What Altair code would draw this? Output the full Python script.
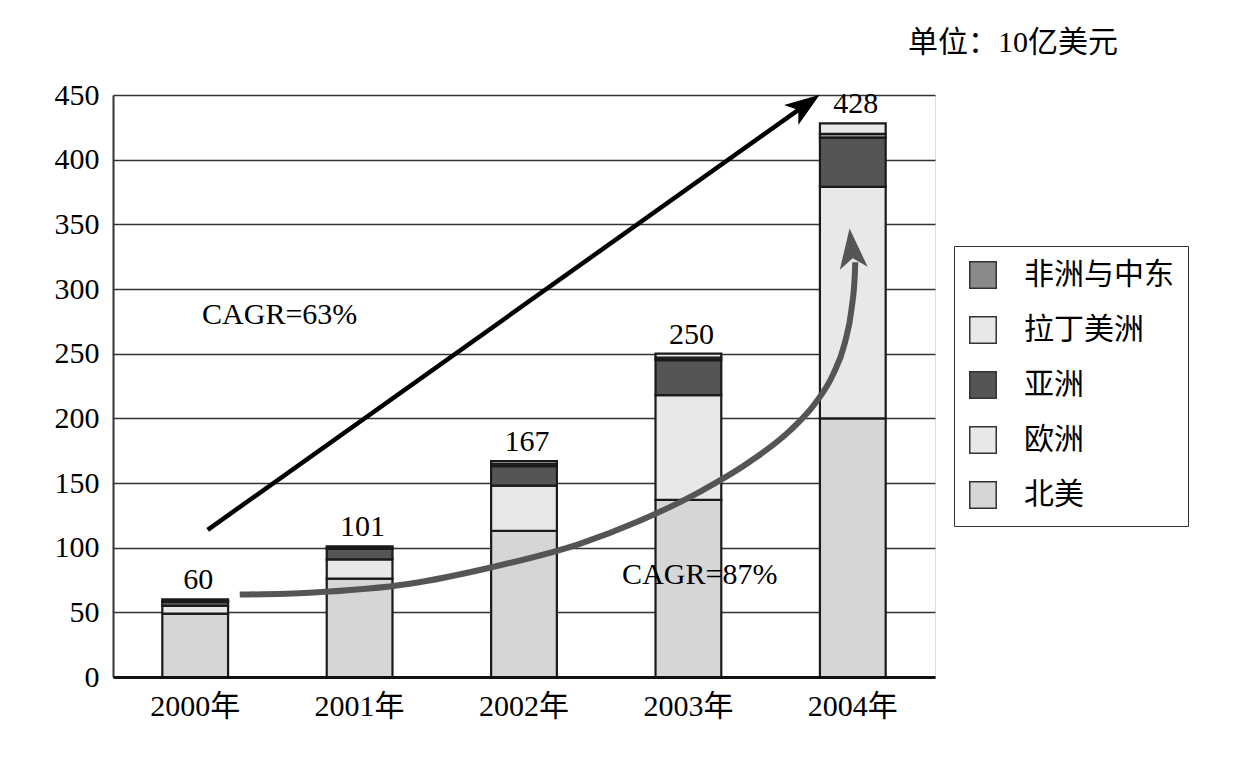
import altair as alt
import pandas as pd

# ---- data ----
years = ["2000年", "2001年", "2002年", "2003年", "2004年"]
north_america = [49, 76, 113, 137, 200]
europe = [6, 15, 35, 81, 179]
asia = [3, 8, 15, 27, 38]
africa_me = [1, 1, 2, 2, 3]
latin_america = [1, 1, 2, 3, 8]
totals = [60, 101, 167, 250, 428]

region_names = ["非洲与中东", "拉丁美洲", "亚洲", "欧洲", "北美"]   # legend order
region_colors = ["#8a8a8a", "#e8e8e8", "#555555", "#e8e8e8", "#d6d6d6"]
stack_rank = {"北美": 0, "欧洲": 1, "亚洲": 2, "非洲与中东": 3, "拉丁美洲": 4}
series = {"北美": north_america, "欧洲": europe, "亚洲": asia,
          "非洲与中东": africa_me, "拉丁美洲": latin_america}

# annotation paths (x in category-index units, y in value units)
straight_u = [0.076, 3.712]
straight_v = [113.8, 442.4]
curve_u = [0.271, 0.696, 1.305, 1.791, 2.339, 2.704, 3.069, 3.373, 3.616, 3.768,
           3.878, 3.951, 3.993, 4.012, 4.015]
curve_v = [63.7, 65.2, 72.1, 84.5, 103.0, 120.8, 143.2, 166.4, 190.3, 211.1,
           233.4, 258.1, 285.1, 310.6, 320.6]
curve_head_u = [3.993]
curve_head_v = [331.4]
cagr_text = ["CAGR=63%", "CAGR=87%"]
cagr_u = [0.514, 3.069]
cagr_v = [279.7, 79.1]

SERIF = "Liberation Serif, Noto Sans CJK SC"
CJK = "Noto Sans CJK SC"
ARROW = "M0,-1 L0.7,1 L0,0.5 L-0.7,1 Z"

rows = []
for name, vals in series.items():
    for y, v in zip(years, vals):
        rows.append({"year": y, "region": name, "value": v, "rank": stack_rank[name]})
df = pd.DataFrame(rows)
tot_df = pd.DataFrame({"year": years, "total": totals})

yscale = alt.Scale(domain=[0, 450], nice=False)
xband = alt.Scale(paddingInner=0.6, paddingOuter=0.3)

bars = alt.Chart(df).mark_bar(stroke="#1a1a1a", strokeWidth=2.2).encode(
    x=alt.X("year:N", sort=years, scale=xband,
            axis=alt.Axis(title=None, labelAngle=0, ticks=False, labelFont=SERIF,
                          labelFontSize=30, labelColor="#000", labelPadding=14,
                          domainColor="#111", domainWidth=3, grid=False, zindex=1)),
    y=alt.Y("value:Q", stack="zero", scale=yscale,
            axis=alt.Axis(title=None, values=list(range(0, 451, 50)), ticks=False,
                          labelFont=SERIF, labelFontSize=30, labelColor="#000",
                          labelPadding=14, domainColor="#333", domainWidth=2,
                          grid=True, gridColor="#333", gridWidth=1.5, gridOpacity=1)),
    color=alt.Color("region:N", scale=alt.Scale(domain=region_names, range=region_colors),
                    legend=alt.Legend(title=None, orient="none", legendX=841, legendY=151,
                                      symbolType="square", symbolSize=700,
                                      symbolStrokeColor="#333", symbolStrokeWidth=1.5,
                                      labelFont=CJK, labelFontSize=30, labelColor="#000",
                                      labelOffset=26, rowPadding=21, padding=14,
                                      strokeColor="#333", fillColor="white")),
    order=alt.Order("rank:Q"),
)

tot_text = alt.Chart(tot_df).mark_text(font=SERIF, fontSize=30, dy=-10, dx=3,
                                        baseline="alphabetic", color="#000").encode(
    x=alt.X("year:N", sort=years, scale=xband),
    y=alt.Y("total:Q", scale=yscale),
    text="total:Q",
)

unit_text = alt.Chart(pd.DataFrame({"t": ["单位：10亿美元"]})).mark_text(
    font=SERIF, fontSize=30, align="left", baseline="middle", color="#000").encode(
    x=alt.value(795), y=alt.value(-52), text="t:N")

base = alt.layer(bars, tot_text, unit_text)

xlin = alt.Scale(domain=[-0.5, 4.5], nice=False, zero=False)

st_df = pd.DataFrame({"u": straight_u, "v": straight_v, "i": [0, 1]})
straight = alt.Chart(st_df).mark_line(color="#000", strokeWidth=4.5).encode(
    x=alt.X("u:Q", scale=xlin, axis=None), y=alt.Y("v:Q", scale=yscale), order="i:Q")
head1 = alt.Chart(st_df.iloc[[1]]).mark_point(shape=ARROW, filled=True, size=1225,
                                             angle=54.5, color="#000", opacity=1).encode(
    x=alt.X("u:Q", scale=xlin, axis=None), y=alt.Y("v:Q", scale=yscale))

cv_df = pd.DataFrame({"u": curve_u, "v": curve_v, "i": list(range(len(curve_u)))})
curve = alt.Chart(cv_df).mark_line(color="#555555", strokeWidth=6,
                                   interpolate="monotone").encode(
    x=alt.X("u:Q", scale=xlin, axis=None), y=alt.Y("v:Q", scale=yscale), order="i:Q")
ch_df = pd.DataFrame({"u": curve_head_u, "v": curve_head_v})
head2 = alt.Chart(ch_df).mark_point(
    shape=ARROW, filled=True, size=1600, angle=354, color="#555555", opacity=1).encode(
    x=alt.X("u:Q", scale=xlin, axis=None), y=alt.Y("v:Q", scale=yscale))

cg_df = pd.DataFrame({"u": cagr_u, "v": cagr_v, "t": cagr_text})
cagr = alt.Chart(cg_df).mark_text(font=SERIF, fontSize=30, align="center",
                                  baseline="middle", color="#000").encode(
    x=alt.X("u:Q", scale=xlin, axis=None), y=alt.Y("v:Q", scale=yscale), text="t:N")

overlay = alt.layer(straight, head1, curve, head2, cagr)

chart = alt.layer(base, overlay).resolve_scale(x="independent").properties(
    width=822, height=582,
    autosize=alt.AutoSizeParams(type="none"),
    padding={"left": 105, "top": 87, "right": 310, "bottom": 70},
).configure_view(stroke="#333", strokeWidth=1.5).configure(background="white")

chart.save("out.html", embed_options={"renderer": "svg", "actions": False})
